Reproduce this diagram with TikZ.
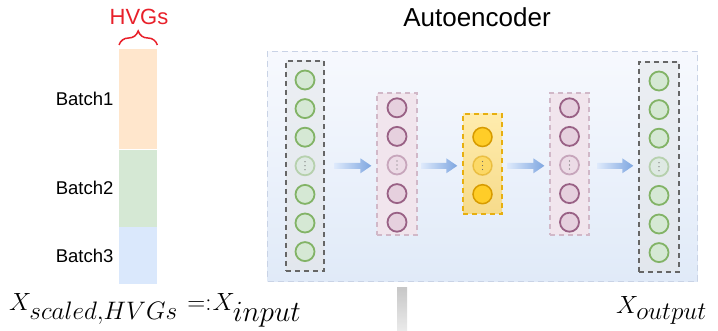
\documentclass[tikz,border=0pt]{standalone}
\usepackage{graphicx}
\usepackage{fontspec}
\setmainfont{Liberation Sans}
\usetikzlibrary{calc,decorations.pathreplacing}
\definecolor{borange}{HTML}{FFE6CC}
\definecolor{bgreen}{HTML}{D5E8D4}
\definecolor{bblue}{HTML}{DAE8FC}
\definecolor{ggreen}{HTML}{82B366}
\definecolor{pfill}{HTML}{E6D0DE}
\definecolor{pdraw}{HTML}{996185}
\definecolor{yfill}{HTML}{FFCD28}
\definecolor{ydraw}{HTML}{D79B00}
\definecolor{hvgred}{HTML}{E8202A}
\definecolor{bigtop}{HTML}{F7F9FE}
\definecolor{bigbot}{HTML}{E0EAF8}
\definecolor{bigdraw}{HTML}{C9D3E6}
\definecolor{arrl}{HTML}{DDE9FB}
\definecolor{arrr}{HTML}{7EA6E0}
\tikzset{
  barseg/.style={rectangle, inner sep=0pt, minimum width=38pt, draw=none},
  batchlab/.style={anchor=east, font=\fontsize{18.5}{20}\selectfont},
  bigbox/.style={rectangle, inner sep=0pt, draw=bigdraw, line width=1pt, dash pattern=on 6pt off 4pt, top color=bigtop, bottom color=bigbot},
  iobox/.style={rectangle, inner sep=0pt, draw=black!60, line width=1.4pt, dash pattern=on 5pt off 4pt, top color=black!4!bblue!75!gray!30, bottom color=bblue!70!gray!45},
  hidbox/.style={rectangle, inner sep=0pt, draw=pdraw!45, line width=1.2pt, dash pattern=on 5pt off 4pt, fill=pfill!55},
  botbox/.style={rectangle, inner sep=0pt, draw=ydraw!60!yfill, line width=1.4pt, dash pattern=on 5pt off 4pt, top color=yfill!38, bottom color=yfill!55!ydraw!50},
  gcirc/.style={circle, minimum size=19pt, inner sep=0pt, draw=ggreen, fill=bgreen, line width=1.8pt},
  pcirc/.style={circle, minimum size=19pt, inner sep=0pt, draw=pdraw, fill=pfill, line width=1.8pt},
  ycirc/.style={circle, minimum size=19pt, inner sep=0pt, draw=ydraw, fill=yfill, line width=1.5pt},
  faded/.style={opacity=0.45},
  mathlab/.style={font=\fontsize{31}{33}\selectfont, inner sep=0pt},
}
\newcommand\vdotsin[1]{%
  \foreach \dy in {-4,0,4}{\fill[black!60] ($(#1)+(0,\dy)$) circle (0.6pt);}}
\newcommand\blockarr[2]{%
  \path[left color=arrl, right color=arrr] let \p1=(#1), \p2=(#2) in
    (\x1,\y1+3pt) -- (\x2-11pt,\y1+3pt) -- (\x2-11pt,\y1+7.5pt) -- (\x2,\y1)
    -- (\x2-11pt,\y1-7.5pt) -- (\x2-11pt,\y1-3pt) -- (\x1,\y1-3pt) -- cycle;}
\newcommand\subw[2]{\resizebox{#1}{!}{$#2$}}
\begin{document}
\begin{tikzpicture}[x=1pt,y=1pt]
\useasboundingbox (0,0) rectangle (718,-331);
% left bar
\node[barseg, fill=borange, minimum height=100pt, anchor=north west] (b1) at (119,-49) {};
\node[barseg, fill=bgreen, minimum height=77pt, anchor=north] (b2) at (b1.south) {};
\node[barseg, fill=bblue, minimum height=57pt, anchor=north] (b3) at (b2.south) {};
\node[batchlab] (l1) at ($(b1.west)+(-2,0)$) {Batch1};
\node[batchlab] (l2) at ($(b2.west)+(-2,0)$) {Batch2};
\node[batchlab] (l3) at ($(b3.west)+(-2,0)$) {Batch3};
\draw[hvgred, line width=1.5pt, decorate, decoration={brace, amplitude=14pt}]
  ($(b1.north west)+(0,4)$) coordinate (br1) -- ($(b1.north east)+(0,4)$) coordinate (br2);
\node[text=hvgred, font=\fontsize{22}{24}\selectfont] (hvg) at (139,-17) {HVGs};
% title
\node[font=\fontsize{26}{28}\selectfont] (title) at (477,-17) {Autoencoder};
% big box
\node[bigbox, minimum width=430pt, minimum height=230pt, anchor=north west] (big) at (267,-51) {};
% columns
\node[iobox, minimum width=38pt, minimum height=210pt] (cin) at (305,-166) {};
\node[hidbox, minimum width=40pt, minimum height=142pt] (ch1) at (397,-164) {};
\node[botbox, minimum width=39pt, minimum height=100pt] (cb) at (482.5,-164) {};
\node[hidbox, minimum width=39pt, minimum height=142pt] (ch2) at (569.5,-164) {};
\node[iobox, minimum width=40pt, minimum height=210pt] (cout) at (659,-167) {};
% input/output circles
\foreach \i in {0,1,2,4,5,6}{
  \node[gcirc] (in\i) at (305,-80-28.6*\i) {};
  \node[gcirc] (out\i) at (659,-81-28.6*\i) {};
}
\node[gcirc, faded] (in3) at (305,-80-28.6*3) {};
\node[gcirc, faded] (out3) at (659,-81-28.6*3) {};
\vdotsin{in3}\vdotsin{out3}
% hidden circles
\foreach \i in {0,1,3,4}{
  \node[pcirc] (ha\i) at (397,-107.8-28.6*\i) {};
  \node[pcirc] (hb\i) at (569.5,-107.8-28.6*\i) {};
}
\node[pcirc, faded] (ha2) at (397,-165) {};
\node[pcirc, faded] (hb2) at (569.5,-165) {};
\vdotsin{ha2}\vdotsin{hb2}
% bottleneck
\node[ycirc] (z0) at (482.5,-137) {};
\node[ycirc, faded] (z1) at (482.5,-165.6) {};
\node[ycirc] (z2) at (482.5,-194.2) {};
\vdotsin{z1}
% arrows
\coordinate (a1s) at ($(cin.east|-in3)+(10,0)$);
\coordinate (a1e) at ($(ch1.west|-in3)+(-5,0)$);
\blockarr{a1s}{a1e}
\coordinate (a2s) at ($(ch1.east|-in3)+(4,0)$);
\coordinate (a2e) at ($(cb.west|-in3)+(-5,0)$);
\blockarr{a2s}{a2e}
\coordinate (a3s) at ($(cb.east|-in3)+(5,0)$);
\coordinate (a3e) at ($(ch2.west|-in3)+(-5,0)$);
\blockarr{a3s}{a3e}
\coordinate (a4s) at ($(ch2.east|-in3)+(8,0)$);
\coordinate (a4e) at ($(cout.west|-in3)+(-5,0)$);
\blockarr{a4s}{a4e}
% formulas
\node[mathlab, anchor=base west] (xin) at (9,-311)
  {$X_{\subw{148pt}{scaled{,}HVGs}}\hspace{9.5pt}{=}{:}\hspace{1pt}X_{\subw{68pt}{input}}$};
\node[mathlab, anchor=base east] (xout) at (707,-313) {$X_{\subw{70pt}{output}}$};
% grey bar
\node[rectangle, inner sep=0pt, minimum width=10pt, minimum height=44pt, anchor=north,
  top color=black!22, bottom color=black!8] (gbar) at (402,-287) {};
\end{tikzpicture}
\end{document}
